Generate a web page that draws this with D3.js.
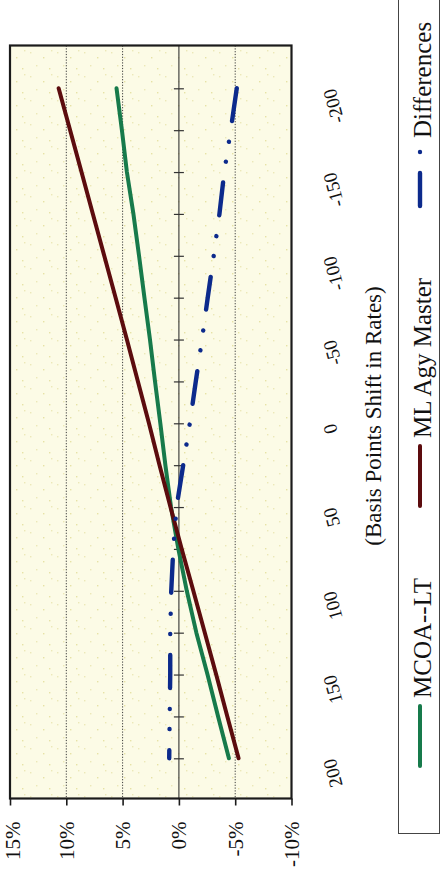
<!DOCTYPE html>
<html>
<head>
<meta charset="utf-8">
<script src="https://cdn.jsdelivr.net/npm/d3@7"></script>
<style>
  html, body { margin: 0; padding: 0; background: #fff; }
  svg { display: block; font-family: "Liberation Serif", "Times New Roman", serif; }
</style>
</head>
<body>
<svg id="chart" width="442" height="882"></svg>
<script>
// Rate-shock results, percent change per basis-point shift
const bpShift = [-200, -175, -150, -125, -100, -75, -50, -25, 0, 25, 50, 75, 100, 125, 150, 175, 200];
const mcoaLT = [5.54, 5.06, 4.62, 4.04, 3.54, 3.06, 2.57, 2.12, 1.65, 1.20, 0.70, 0.05, -0.70, -1.55, -2.54, -3.48, -4.44];
const mlAgyMaster = [10.68, 9.66, 8.65, 7.64, 6.63, 5.62, 4.62, 3.64, 2.66, 1.72, 0.75, -0.25, -1.28, -2.30, -3.31, -4.30, -5.30];
const differences = [-5.14, -4.60, -4.03, -3.60, -3.09, -2.56, -2.05, -1.50, -0.97, -0.38, 0.21, 0.50, 0.68, 0.77, 0.77, 0.82, 0.86];
const valueTicks = [15, 10, 5, 0, -5, -10];
const gridValues = [10, 5, -5];
const bpLabels = [-200, -150, -100, -50, 0, 50, 100, 150, 200];
const seriesNames = ["MCOA--LT", "ML Agy Master", "Differences"];
const axisTitle = "(Basis Points Shift in Rates)";

const svg = d3.select("#chart");
const fontFamily = '"Liberation Serif", "Times New Roman", serif';

// Page is laid out sideways: value axis runs across, rate shift runs down
const plot = { left: 10, right: 291.5, top: 45.5, bottom: 798.5 };
const x = d3.scaleLinear().domain([15, -10]).range([plot.left, plot.right]);
const y = d3.scaleLinear().domain([-200, 200]).range([88.3, 758.3]);

// Speckled cream fill for the plot area
const defs = svg.append("defs");
const pat = defs.append("pattern")
  .attr("id", "speckle").attr("patternUnits", "userSpaceOnUse")
  .attr("width", 27).attr("height", 24);
pat.append("rect").attr("width", 27).attr("height", 24).attr("fill", "#fcfbe6");
[[3, 4], [16, 9], [9, 17], [22, 20], [24, 2]].forEach(([cx, cy], i) => {
  pat.append("rect").attr("x", cx).attr("y", cy).attr("width", 1.4).attr("height", 1.4)
    .attr("fill", i % 2 ? "#e7e2a6" : "#ece8b8");
});

svg.append("rect")
  .attr("x", plot.left).attr("y", plot.top)
  .attr("width", plot.right - plot.left).attr("height", plot.bottom - plot.top)
  .attr("fill", "url(#speckle)");

// Dotted gridlines
svg.append("g").selectAll("line").data(gridValues).join("line")
  .attr("x1", d => x(d)).attr("x2", d => x(d))
  .attr("y1", plot.top).attr("y2", plot.bottom)
  .attr("stroke", "#3a3a3a").attr("stroke-width", 1)
  .attr("stroke-dasharray", "1.2,1.6");

// Zero line carrying the rate-shift tick marks
svg.append("line")
  .attr("x1", x(0)).attr("x2", x(0)).attr("y1", plot.top).attr("y2", plot.bottom)
  .attr("stroke", "#333").attr("stroke-width", 1.1);
const bpAxis = d3.axisLeft(y).tickValues(bpShift).tickSize(10).tickFormat("");
svg.append("g")
  .attr("transform", `translate(${x(0) + 5},0)`)
  .call(bpAxis)
  .call(g => g.select(".domain").remove())
  .call(g => g.selectAll(".tick line").attr("stroke", "#333").attr("stroke-width", 1.2));

// Plot border
svg.append("rect")
  .attr("x", plot.left).attr("y", plot.top)
  .attr("width", plot.right - plot.left).attr("height", plot.bottom - plot.top)
  .attr("fill", "none").attr("stroke", "#1b1b1b").attr("stroke-width", 2.2);

// Value axis along the bottom edge; the outermost label is kept inside the page
const valueAxis = d3.axisBottom(x).tickValues(valueTicks).tickSize(7).tickFormat(d => d + "%");
svg.append("g")
  .attr("transform", `translate(0,${plot.bottom})`)
  .call(valueAxis)
  .call(g => g.select(".domain").remove())
  .call(g => g.selectAll(".tick line").attr("stroke", "#1b1b1b").attr("stroke-width", 1.6))
  .call(g => g.selectAll(".tick text")
    .attr("x", 0).attr("y", 0).attr("dy", null)
    .attr("transform", d => `translate(${Math.max(0, 12.5 - x(d))},23) rotate(-90)`)
    .attr("text-anchor", "end").attr("dominant-baseline", "central")
    .attr("font-family", fontFamily).attr("font-size", 21).attr("fill", "#111"));

// Rate-shift labels
svg.append("g").selectAll("text").data(bpLabels).join("text")
  .attr("transform", d => `translate(329,${y(d) + 1}) rotate(-105)`)
  .attr("text-anchor", "end").attr("dominant-baseline", "central")
  .attr("font-size", 19).attr("fill", "#111")
  .text(d => String(d));

svg.append("text")
  .attr("transform", "translate(373,416) rotate(-90)")
  .attr("text-anchor", "middle").attr("dominant-baseline", "central")
  .attr("font-size", 23).attr("fill", "#111")
  .text(axisTitle);

// Series lines
const series = [
  { name: seriesNames[0], values: mcoaLT, color: "#177a4b", dash: null },
  { name: seriesNames[1], values: mlAgyMaster, color: "#5c0c0e", dash: null },
  { name: seriesNames[2], values: differences, color: "#0c2a8c", dash: "33 21 0.1 20 0.1 21" }
];
const line = d3.line().x(d => x(d[1])).y(d => y(d[0]));
svg.append("g").selectAll("path").data(series).join("path")
  .attr("d", s => line(bpShift.map((b, i) => [b, s.values[i]])))
  .attr("fill", "none").attr("stroke", s => s.color)
  .attr("stroke-width", s => s.dash ? 4.4 : 4)
  .attr("stroke-linecap", "round").attr("stroke-linejoin", "round")
  .attr("stroke-dasharray", s => s.dash);

// Legend box
svg.append("rect")
  .attr("x", 398.5).attr("y", -3).attr("width", 41).attr("height", 836.5)
  .attr("fill", "#fff").attr("stroke", "#444").attr("stroke-width", 1);

const legendBottoms = [766, 506, 206];
const legend = svg.append("g").selectAll("g").data(series).join("g");
legend.append("line")
  .attr("x1", 420).attr("x2", 420)
  .attr("y1", (s, i) => legendBottoms[i]).attr("y2", (s, i) => legendBottoms[i] - 60)
  .attr("stroke", s => s.color).attr("stroke-width", s => s.dash ? 4.4 : 4)
  .attr("stroke-linecap", "round")
  .attr("stroke-dasharray", s => s.dash);
legend.append("text")
  .attr("transform", (s, i) => `translate(422,${legendBottoms[i] - 68}) rotate(-90)`)
  .attr("text-anchor", "start").attr("dominant-baseline", "central")
  .attr("font-size", 25).attr("fill", "#111")
  .text(s => s.name);
</script>
</body>
</html>
